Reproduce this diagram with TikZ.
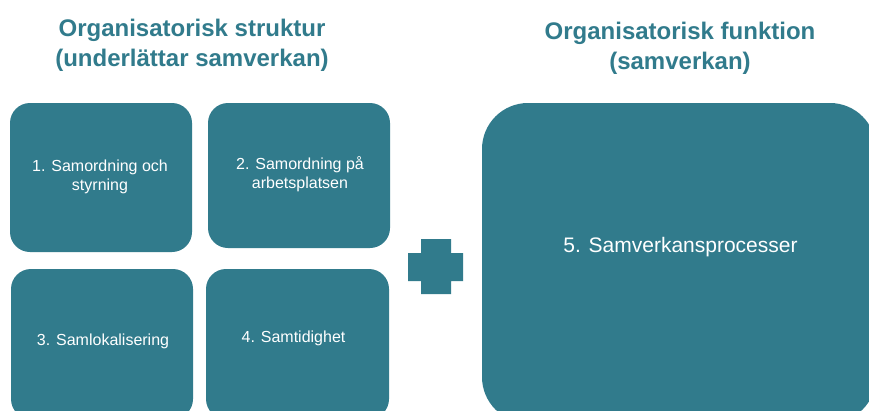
\documentclass[tikz,border=0pt]{standalone}
\usepackage{fontspec}
\setmainfont{Liberation Sans}
\definecolor{teal}{RGB}{49,123,140}
\begin{document}
\begin{tikzpicture}[x=1pt,y=-1pt,
  box/.style={fill=teal,draw=none,rounded corners=20pt,inner sep=0pt,minimum width=#1},
  bigbox/.style={fill=teal,draw=none,rounded corners=46pt,inner sep=0pt},
  boxtext/.style={text=white,align=center,inner sep=0pt,font=\fontsize{16}{19}\selectfont},
  bigtext/.style={text=white,align=center,inner sep=0pt,font=\fontsize{21}{25}\selectfont},
  title/.style={text=teal,align=center,inner sep=0pt,font=\fontsize{24}{30}\selectfont\bfseries}]
\useasboundingbox (0,0) rectangle (869,410);
\clip (0,0) rectangle (869,410);
\fill[white] (0,0) rectangle (869,410);
% titles
\node[title] (t1) at (192,45) {Organisatorisk struktur\\(underlättar samverkan)};
\node[title] (t2) at (680,48) {Organisatorisk funktion\\(samverkan)};
% left boxes
\node[box=182pt,minimum height=149pt] (b1) at (101,177.5) {};
\node[box=182pt,minimum height=145pt] (b2) at (299,175.5) {};
\node[box=182pt,minimum height=150pt] (b3) at (102,344) {};
\node[box=183pt,minimum height=150pt] (b4) at (297.5,344) {};
% big box
\node[bigbox,minimum width=394pt,minimum height=320pt] (b5) at (679,263) {};
% texts
\node[boxtext] (l1) at (100,177) {1. Samordning och\\styrning};
\node[boxtext] (l2) at (300,174) {2. Samordning på\\arbetsplatsen};
\node[boxtext] (l3) at (103,341) {3. Samlokalisering};
\node[boxtext] (l4) at (293.5,338) {4. Samtidighet};
\node[bigtext] (l5) at (680.5,247) {5. Samverkansprocesser};
% plus
\fill[teal] (421,239) -- (451,239) -- (451,253) -- (463,253) -- (463,281) -- (451,281)
  -- (451,294) -- (421,294) -- (421,281) -- (408,281) -- (408,253) -- (421,253) -- cycle;
\end{tikzpicture}
\end{document}
